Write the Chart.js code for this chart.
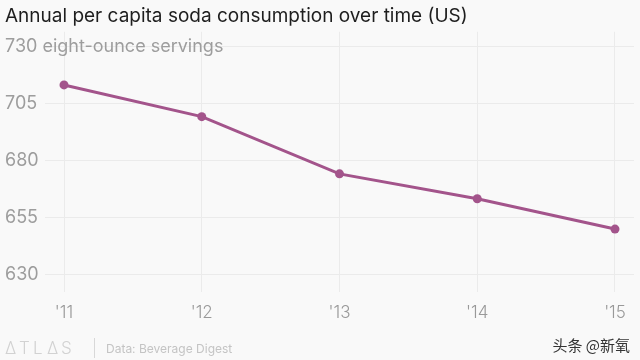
<!DOCTYPE html>
<html>
<head>
<meta charset="utf-8">
<script src="https://cdn.jsdelivr.net/npm/chart.js@4"></script>
<style>
  html, body { margin: 0; padding: 0; background: #f9f9f9; }
  #wrap { width: 640px; height: 360px; }
</style>
</head>
<body>
<div id="wrap"><canvas id="sodaChart"></canvas></div>
<script>
// values
const years = [11, 12, 13, 14, 15];
const servings = [713.3, 699.4, 674.3, 663.4, 650.1];
const yTicks = [630, 655, 680, 705, 730];

const fontFamily = 'Inter, "Noto Sans", sans-serif';

const footerPlugin = {
    id: 'footer',
    afterDraw(chart) {
        const c = chart.ctx;
        c.save();
        c.textBaseline = 'middle';
        c.fillStyle = '#d2d2d2';
        c.font = '300 17px ' + fontFamily;
        let x = 5;
        for (const ch of ['\u0394', 'T', 'L', '\u0394', 'S']) {
            c.fillText(ch, x, 349);
            x += 14;
        }
        c.strokeStyle = '#d8d8d8';
        c.lineWidth = 1;
        c.beginPath();
        c.moveTo(94.5, 338);
        c.lineTo(94.5, 358);
        c.stroke();
        c.fillStyle = '#c4c4c4';
        c.font = '12px ' + fontFamily;
        c.fillText('Data: Beverage Digest', 106, 349);
        c.fillStyle = '#333';
        c.font = '15px "Noto Sans CJK SC", sans-serif';
        c.textAlign = 'right';
        c.fillText('头条 @新氧', 630, 345);
        c.restore();
    }
};

const ctx = document.getElementById('sodaChart').getContext('2d');
const sodaChart = new Chart(ctx, {
    type: 'line',
    data: {
        datasets: [{
            label: 'Servings',
            data: years.map((y, i) => ({ x: y, y: servings[i] })),
            borderColor: '#a3548b',
            backgroundColor: '#a3548b',
            borderWidth: 3,
            pointRadius: 4.5,
            pointBorderWidth: 0,
            pointHoverRadius: 4.5,
            fill: false,
            tension: 0
        }]
    },
    plugins: [footerPlugin],
    options: {
        responsive: true,
        maintainAspectRatio: false,
        animation: false,
        layout: { padding: { left: 5, right: 6, top: 0, bottom: 38 } },
        plugins: {
            legend: { display: false },
            tooltip: { enabled: false },
            title: {
                display: true,
                text: 'Annual per capita soda consumption over time (US)',
                align: 'start',
                color: '#1e1e1e',
                font: { family: fontFamily, size: 19, weight: 'normal' },
                padding: { top: 5, bottom: 4 }
            }
        },
        scales: {
            x: {
                type: 'linear',
                min: 10.862,
                max: 15.138,
                afterBuildTicks(axis) { axis.ticks = years.map(v => ({ value: v })); },
                afterFit(axis) { axis.height = 30; },
                border: { display: false },
                grid: { color: '#ebebeb', drawTicks: false },
                ticks: {
                    color: '#999',
                    padding: 11,
                    font: { family: fontFamily, size: 17, weight: 300 },
                    callback: v => "'" + v
                }
            },
            y: {
                min: 622.5,
                max: 736.6,
                afterBuildTicks(axis) { axis.ticks = yTicks.map(v => ({ value: v })); },
                afterFit(axis) { axis.width = 40; },
                border: { display: false },
                grid: { color: '#ebebeb', drawTicks: false },
                ticks: {
                    color: '#9d9d9d',
                    mirror: true,
                    padding: -40,
                    font: { family: fontFamily, size: 18, weight: 'normal' },
                    callback: v => v === 730 ? '730 eight-ounce servings' : String(v)
                }
            }
        }
    }
});
</script>
</body>
</html>
